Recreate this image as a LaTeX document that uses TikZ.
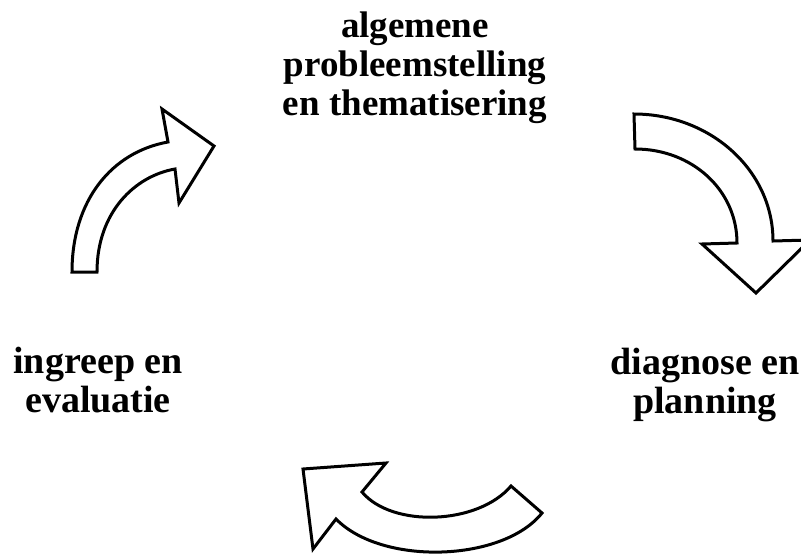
\documentclass[tikz,border=0pt]{standalone}
\usepackage{fontspec}
\setmainfont{Liberation Serif}
\begin{document}
\begin{tikzpicture}[x=1pt,y=-1pt,
  lbl/.style={font=\fontsize{37}{39}\selectfont\bfseries, align=center, inner sep=0pt, anchor=base},
  sidelbl/.style={lbl, font=\fontsize{38}{39}\selectfont\bfseries},
  bigarrow/.style={draw=black, line width=3pt, line join=miter, fill=white}]
\useasboundingbox (0,0) rectangle (801,554);
\node[lbl] (top) at (415,115) {algemene\\probleemstelling\\en thematisering};
\node[sidelbl] (left) at (98,412) {ingreep en\\evaluatie};
\node[sidelbl] (right) at (705,413) {diagnose en\\planning};
% right arrow
\draw[bigarrow] (634,114) -- (635,149)
  .. controls (692,149) and (737,190) .. (737,243)
  -- (702,244) -- (756,293) -- (810,240) -- (773,241)
  .. controls (773,170) and (710,114) .. (634,114) -- cycle;
% top-left arrow
\draw[bigarrow] (72,272) .. controls (72,200) and (112,152) .. (168,142)
  -- (162,109) -- (214,146) -- (179,203) -- (175,169)
  .. controls (135,176) and (97,212) .. (97,272) -- cycle;
% bottom arrow
\draw[bigarrow] (511,486) .. controls (478,525) and (392,528) .. (362,492)
  -- (386,463) -- (303,469) -- (313,549) -- (336,519)
  .. controls (382,566) and (503,562) .. (542,513) -- cycle;
\end{tikzpicture}
\end{document}
